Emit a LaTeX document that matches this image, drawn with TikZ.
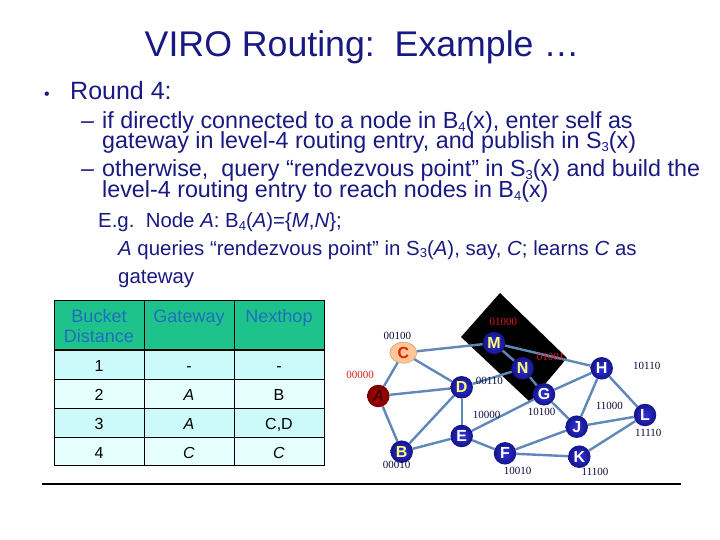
\documentclass[tikz,border=0pt]{standalone}
\usepackage{fontspec}
\setmainfont{Liberation Sans}
\newfontfamily\labfont{Liberation Serif}
\usetikzlibrary{shapes.geometric,backgrounds}
\definecolor{navy}{RGB}{25,25,130}
\definecolor{hdrfill}{RGB}{30,195,140}
\definecolor{hdrtext}{RGB}{30,110,190}
\definecolor{rowA}{RGB}{204,250,250}
\definecolor{rowB}{RGB}{230,255,255}
\definecolor{edgeblue}{RGB}{95,135,185}
\definecolor{nodein}{RGB}{50,50,215}
\definecolor{nodeout}{RGB}{20,20,140}
\definecolor{binred}{RGB}{220,30,30}
\definecolor{bintext}{RGB}{10,10,60}
\definecolor{lettery}{RGB}{255,255,120}
\newcommand{\mysub}[1]{\raisebox{-2.2pt}{\fontsize{13}{13}\selectfont #1}}
\begin{document}
\begin{tikzpicture}[x=1pt,y=-1pt,
  ttl/.style={anchor=base, text=navy, inner sep=0, font=\fontsize{35.7}{40}\selectfont},
  rnd/.style={anchor=base west, text=navy, inner sep=0, font=\fontsize{25}{30}\selectfont},
  big/.style={anchor=base west, text=navy, inner sep=0, font=\fontsize{23.3}{26}\selectfont},
  eg/.style={anchor=base west, text=navy, inner sep=0, font=\fontsize{20.4}{24}\selectfont},
  hdr/.style={anchor=base, text=hdrtext, inner sep=0, font=\fontsize{18}{20}\selectfont},
  cell/.style={anchor=base, inner sep=0, font=\fontsize{16}{18}\selectfont},
  edge/.style={draw=edgeblue, line width=2.4pt},
  vnode/.style={circle, minimum size=22.5pt, inner sep=0, shading=radial, inner color=nodein, outer color=nodeout, text=white, font=\bfseries\fontsize{16}{16}\selectfont},
  ynode/.style={vnode, text=lettery},
  bin/.style={inner sep=0, text=bintext, font=\labfont\fontsize{11}{11}\selectfont},
  binr/.style={bin, text=binred}
]
\useasboundingbox (0,0) rectangle (720,540);

% title and text
\node[ttl] (title) at (362,57) {VIRO Routing:\ \ Example …};
\node[rnd] (bul) at (44,100) {\fontsize{16}{16}\selectfont •};
\node[rnd] (r4) at (70,100) {Round 4:};
\node[big] (d1) at (81,129) {–};
\node[big] (l1) at (102,129) {if directly connected to a node in B\mysub{4}(x), enter self as};
\node[big] (l2) at (102,149) {gateway in level-4 routing entry, and publish in S\mysub{3}(x)};
\node[big] (d2) at (81,177) {–};
\node[big] (l3) at (102,177) {otherwise,\ \ query “rendezvous point” in S\mysub{3}(x) and build the};
\node[big] (l4) at (102,198) {level-4 routing entry to reach nodes in B\mysub{4}(x)};
\node[eg] (e1) at (98,228) {E.g.\ \ Node \textit{A}: B\mysub{4}(\textit{A})=\{\textit{M},\textit{N}\};};
\node[eg] (e2) at (118,255) {\textit{A} queries “rendezvous point” in S\mysub{3}(\textit{A}), say, \textit{C}; learns \textit{C} as};
\node[eg] (e3) at (118,283) {gateway};

% table
\fill[hdrfill] (54,300) rectangle (324,350);
\fill[rowA] (54,350) rectangle (324,379);
\fill[rowB] (54,379) rectangle (324,408);
\fill[rowA] (54,408) rectangle (324,437);
\fill[rowB] (54,437) rectangle (324,465);
\draw[line width=1pt] (54,300) rectangle (324,465);
\draw[line width=1pt] (144,300) -- (144,465) (234,300) -- (234,465);
\draw[line width=1pt] (54,379) -- (324,379) (54,408) -- (324,408) (54,437) -- (324,437);
\draw[line width=2.6pt] (54,350) -- (324,350);
\node[hdr] (hb1) at (99,322) {Bucket};
\node[hdr] (hb2) at (99,342) {Distance};
\node[hdr] (hg) at (189,322) {Gateway};
\node[hdr] (hn) at (279,322) {Nexthop};
\node[cell] (c11) at (99,371.5) {1};
\node[cell] (c12) at (189,371.5) {-};
\node[cell] (c13) at (279,371.5) {-};
\node[cell] (c21) at (99,400.5) {2};
\node[cell] (c22) at (189,400.5) {\textit{A}};
\node[cell] (c23) at (279,400.5) {B};
\node[cell] (c31) at (99,429.5) {3};
\node[cell] (c32) at (189,429.5) {\textit{A}};
\node[cell] (c33) at (279,429.5) {C,D};
\node[cell] (c41) at (99,458) {4};
\node[cell] (c42) at (189,458) {\textit{C}};
\node[cell] (c43) at (279,458) {\textit{C}};

% graph nodes
\node[ynode] (M) at (494,343) {M};
\node[ynode] (N) at (522.7,368.3) {N};
\node[ellipse, minimum width=27pt, minimum height=21pt, inner sep=0, fill={rgb,255:red,255;green,200;blue,150}, draw={rgb,255:red,200;green,130;blue,90}, text={rgb,255:red,230;green,30;blue,0}, font=\bfseries\fontsize{16}{16}\selectfont] (C) at (403.3,352.7) {C};
\node[vnode, inner color={rgb,255:red,190;green,0;blue,0}, outer color={rgb,255:red,120;green,0;blue,0}, text={rgb,255:red,60;green,0;blue,0}, font=\bfseries\itshape\fontsize{16}{16}\selectfont] (A) at (378.3,396) {A};
\node[ynode] (D) at (461.7,387.3) {D};
\node[vnode] (G) at (544,394.3) {G};
\node[vnode] (H) at (601.7,368.3) {H};
\node[vnode] (L) at (645,415) {L};
\node[vnode] (J) at (576.7,426.7) {J};
\node[vnode] (E) at (461.7,436) {E};
\node[ynode] (B) at (401.7,451.7) {B};
\node[vnode] (F) at (505,453.3) {F};
\node[vnode] (K) at (579.3,456.7) {K};

\begin{scope}[on background layer]
  \fill[black] (461,337) -- (500,293) -- (567,358) -- (530,402) -- cycle;
  \draw[edge] (C) -- (M);
  \draw[edge] (A) -- (C);
  \draw[edge] (C) -- (D);
  \draw[edge] (A) -- (D);
  \draw[edge] (D) -- (N);
  \draw[edge] (M) -- (N);
  \draw[edge] (M) -- (H);
  \draw[edge] (N) -- (G);
  \draw[edge] (G) -- (H);
  \draw[edge] (E) -- (G);
  \draw[edge] (G) -- (J);
  \draw[edge] (H) -- (J);
  \draw[edge] (H) -- (L);
  \draw[edge] (J) -- (L);
  \draw[edge] (F) -- (J);
  \draw[edge] (F) -- (K);
  \draw[edge] (K) -- (L);
  \draw[edge] (B) -- (E);
  \draw[edge] (E) -- (F);
  \draw[edge] (D) -- (E);
  \draw[edge] (B) -- (D);
  \draw[edge] (A) -- (B);
\end{scope}

% address labels
\node[binr] (aM) at (503.3,321.7) {01000};
\node[bin] (aC) at (397.3,336) {00100};
\node[binr] (aA) at (360,375) {00000};
\node[bin] (aD) at (489.3,380.7) {00110};
\node[binr] (aN) at (550.7,356.7) {01001};
\node[bin] (aH) at (646.7,366) {10110};
\node[bin] (aE) at (486.7,415) {10000};
\node[bin] (aG) at (541.7,411.7) {10100};
\node[bin] (aJ) at (609.3,406) {11000};
\node[bin] (aL) at (648.3,433.3) {11110};
\node[bin] (aB) at (396.7,465) {00010};
\node[bin] (aF) at (517.7,470.7) {10010};
\node[bin] (aK) at (595,471.7) {11100};

% rule
\draw[line width=1.5pt] (42,484) -- (681,484);
\end{tikzpicture}
\end{document}
